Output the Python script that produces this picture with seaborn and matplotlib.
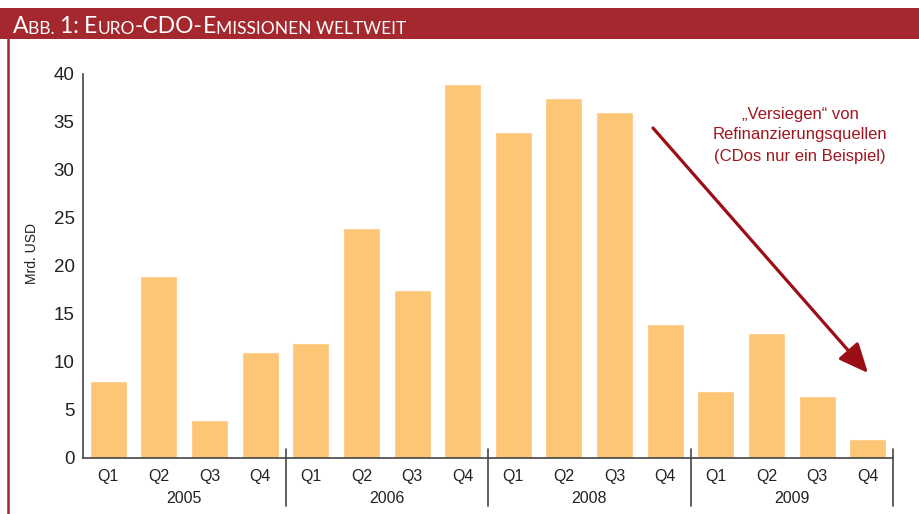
import numpy as np
import pandas as pd
import matplotlib
matplotlib.use("Agg")
import matplotlib.pyplot as plt
import matplotlib.transforms as mtransforms
from matplotlib.patches import Rectangle
from matplotlib.lines import Line2D
import seaborn as sns

# data
years = ["2005", "2006", "2008", "2009"]
quarters = ["Q1", "Q2", "Q3", "Q4"]
values = [8, 19, 4, 11,
          12, 24, 17.5, 39,
          34, 37.5, 36, 14,
          7, 13, 6.5, 2]
yticks = [0, 5, 10, 15, 20, 25, 30, 35, 40]

periods = [y + " " + q for y in years for q in quarters]
df = pd.DataFrame({"period": periods, "value": values})

sns.set_style("white")
plt.rcParams["font.family"] = ["Liberation Sans", "DejaVu Sans"]

W, H = 919, 514
fig = plt.figure(figsize=(W / 100, H / 100), dpi=100)
ax = fig.add_axes([83 / W, (H - 458) / H, (893 - 83) / W, (458 - 74) / H])

bar_color = "#fdc576"
red = "#a5282f"
dark_red = "#a3151d"
grey = "#444444"

sns.barplot(data=df, x="period", y="value", order=periods, color=bar_color,
            saturation=1, width=0.73, ax=ax)

ax.set_xlim(-0.5, len(periods) - 0.5)
ax.set_ylim(0, 40)
ax.set_yticks(yticks)
ax.set_xlabel("")
ax.set_ylabel("")

for s in ["top", "right"]:
    ax.spines[s].set_visible(False)
for s in ["left", "bottom"]:
    ax.spines[s].set_color(grey)
    ax.spines[s].set_linewidth(1.2)

ax.tick_params(axis="y", direction="in", length=8, width=1, color=grey,
               labelsize=13.5, labelcolor="#222222", pad=6)
ax.set_xticks(range(len(periods)))
ax.set_xticklabels(quarters * len(years))
ax.tick_params(axis="x", length=0, labelsize=11.5, labelcolor="#222222", pad=8)

# minor ticks between quarters inside a year
minor = [i + 0.5 for i in range(len(periods) - 1) if (i + 1) % 4 != 0]
ax.set_xticks(minor, minor=True)
ax.tick_params(axis="x", which="minor", direction="in", length=6, width=1, color=grey)

# year separators and labels
trans = mtransforms.blended_transform_factory(ax.transData, ax.transAxes)
for k, yr in enumerate(years):
    sep = 4 * k + 3.5
    ax.add_line(Line2D([sep, sep], [0.0234, -0.125], transform=trans,
                       color=grey, lw=1.2, clip_on=False))
    ax.text(4 * k + 1.5, -0.105, yr, transform=trans, ha="center", va="center",
            fontsize=11.5, color="#222222")

fig.text(32 / W, (H - 253) / H, "Mrd. USD", rotation=90, ha="center", va="center",
         fontsize=10, color="#222222")

# title bar
fig.add_artist(Rectangle((0, 1 - 39 / H), 1, 31 / H, transform=fig.transFigure,
                         color=red, lw=0))
fig.add_artist(Line2D([7.5 / W, 7.5 / W], [0, 1 - 39 / H], transform=fig.transFigure,
                      color=red, lw=1.8))

segments = [("A", 16.5), ("BB. ", 12.5), ("1: ", 16.5), ("E", 16.5), ("URO", 12.5),
            ("-CDO-", 16.5), ("E", 16.5), ("MISSIONEN WELTWEIT", 12.5)]
prev = None
for txt, size in segments:
    if prev is None:
        prev = fig.text(13 / W, (H - 37) / H, txt, fontsize=size, color="white",
                        family=["Lato", "DejaVu Sans"], va="bottom", ha="left")
    else:
        prev = fig.add_artist(matplotlib.text.Annotation(
            txt, xy=(1, 0), xycoords=prev, va="bottom", ha="left",
            fontsize=size, color="white", family=["Lato", "DejaVu Sans"]))

# annotation
fig.text(800 / W, (H - 135) / H,
         "\u201eVersiegen\u201c von\nRefinanzierungsquellen\n(CDos nur ein Beispiel)",
         ha="center", va="center", fontsize=12, color=dark_red, linespacing=1.5)
fig.add_artist(matplotlib.text.Annotation(
    "", xy=(868, H - 373), xycoords="figure pixels",
    xytext=(653, H - 128), textcoords="figure pixels",
    arrowprops=dict(arrowstyle="-|>,head_length=0.9,head_width=0.4",
                    mutation_scale=20, lw=2.3, color="#9b0e16",
                    shrinkA=0, shrinkB=0)))

fig.savefig("out.png", dpi=100)
